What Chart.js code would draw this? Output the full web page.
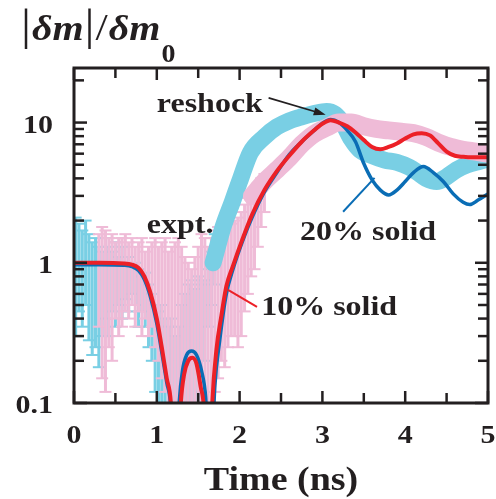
<!DOCTYPE html>
<html>
<head>
<meta charset="utf-8">
<script src="https://cdn.jsdelivr.net/npm/chart.js@4.4.1/dist/chart.umd.min.js"></script>
<style>
  html, body { margin: 0; background: #fff; }
  canvas { display: block; }
</style>
</head>
<body>
<canvas id="growth" width="496" height="499"></canvas>
<script>
// experiment, blue data (error bars at early times, then a band)
const cyanErrT  = [0.02,0.06,0.10,0.14,0.18,0.22,0.26,0.30,0.34,0.38,0.42,0.46,0.50,0.54,0.58,0.62,0.66,0.70,0.74,0.78,0.82,0.86,0.90,0.94,0.98,1.02,1.06,1.10,1.14,1.18,1.22,1.26,1.30,1.34,1.38,1.42,1.46,1.50,1.54,1.58,1.62,1.66,1.70];
const cyanErrLo = [0.3,0.45,0.35,0.5,0.28,0.22,0.25,0.18,0.3,0.4,0.3,0.45,0.35,0.5,0.4,0.55,0.45,0.6,0.5,0.35,0.45,0.35,0.25,0.2,0.12,0.09,0.09,0.09,0.09,0.09,0.09,0.09,0.09,0.09,0.09,0.09,0.09,0.09,0.12,0.2,0.35,0.5,0.7];
const cyanErrHi = [2.1,1.9,1.7,2.0,1.6,1.4,1.5,1.3,1.2,1.5,1.3,1.2,1.4,1.1,1.3,1.0,1.1,0.95,1.0,0.9,0.8,0.85,0.7,0.6,0.5,0.45,0.5,0.4,0.35,0.4,0.3,0.35,0.5,0.6,0.7,0.75,0.65,0.8,0.7,0.75,0.9,1.2,1.6];
const cyanBandT = [1.68,1.74,1.8,1.91,2.0,2.13,2.3,2.45,2.6,2.75,2.9,3.05,3.15,3.25,3.35,3.45,3.6,3.75,3.9,4.05,4.15,4.25,4.38,4.5,4.62,4.75,4.9,5.0];
const cyanBandV = [1.0,1.35,1.8,2.7,3.8,6.1,7.9,9.3,10.3,11.0,11.6,12.0,11.5,9.8,7.6,6.4,5.8,5.4,5.2,4.8,4.4,4.0,3.8,4.1,4.6,5.0,5.3,5.5];

// experiment, pink data
const pinkErrT  = [0.30,0.34,0.38,0.42,0.46,0.50,0.54,0.58,0.62,0.66,0.70,0.74,0.78,0.82,0.86,0.90,0.94,0.98,1.02,1.06,1.10,1.14,1.18,1.22,1.26,1.30,1.34,1.38,1.42,1.46,1.50,1.54,1.58,1.62,1.66,1.70,1.74,1.78,1.82,1.86,1.90,1.94,1.98,2.02,2.06,2.10,2.14,2.18,2.22,2.26,2.30];
const pinkErrLo = [0.35,0.15,0.12,0.25,0.2,0.4,0.3,0.35,0.45,0.4,0.5,0.35,0.45,0.3,0.4,0.3,0.35,0.25,0.2,0.15,0.12,0.09,0.09,0.09,0.09,0.09,0.09,0.09,0.09,0.09,0.09,0.09,0.09,0.09,0.09,0.12,0.15,0.2,0.18,0.25,0.3,0.3,0.25,0.3,0.45,0.6,0.8,0.9,1.3,1.8,2.3];
const pinkErrHi = [1.6,1.8,1.7,1.5,1.6,1.4,1.5,1.5,1.6,1.4,1.5,1.3,1.4,1.5,1.2,1.3,1.4,1.5,1.3,1.4,1.5,1.2,1.3,1.4,1.5,1.3,1.1,1.0,0.9,1.1,1.3,1.6,1.5,1.3,1.5,1.7,1.8,1.6,1.9,1.9,1.9,2.0,2.1,2.3,2.6,2.9,3.1,3.4,3.7,4.0,4.3];
const pinkBandT = [2.15,2.3,2.45,2.6,2.75,2.9,3.05,3.2,3.35,3.5,3.65,3.8,3.95,4.1,4.25,4.4,4.55,4.7,4.85,5.0];
const pinkBandV = [3.0,3.8,4.6,5.6,7.0,8.3,9.2,10.0,10.0,9.4,9.0,8.8,8.6,8.4,7.9,7.2,6.7,6.4,6.2,6.0];

// simulations
const redT = [0,0.3,0.6,0.7,0.78,0.85,0.92,1.0,1.06,1.12,1.17,1.21,1.25,1.29,1.33,1.38,1.43,1.48,1.53,1.57,1.6,1.64,1.67,1.72,1.78,1.84,1.92,2.03,2.15,2.3,2.45,2.6,2.75,2.9,3.0,3.1,3.2,3.3,3.4,3.5,3.6,3.7,3.8,3.9,4.0,4.1,4.2,4.3,4.4,4.5,4.6,4.7,4.8,4.9,5.0];
const redV = [1.0,1.0,0.99,0.97,0.92,0.8,0.62,0.4,0.25,0.15,0.1,0.03,0.03,0.1,0.16,0.2,0.21,0.19,0.13,0.09,0.03,0.03,0.1,0.24,0.42,0.68,0.95,1.45,2.2,3.3,4.5,5.8,7.3,8.8,9.8,10.4,10.0,9.4,8.5,7.5,6.7,6.45,6.7,7.1,7.7,8.25,8.4,8.1,7.1,6.2,5.8,5.7,5.65,5.65,5.65];
const blueT = [0,0.3,0.6,0.7,0.78,0.85,0.92,1.0,1.06,1.12,1.17,1.2,1.23,1.27,1.31,1.36,1.42,1.48,1.54,1.59,1.63,1.66,1.70,1.76,1.84,1.92,2.03,2.15,2.3,2.45,2.6,2.75,2.9,3.0,3.1,3.2,3.3,3.4,3.5,3.6,3.7,3.8,3.9,4.0,4.1,4.22,4.34,4.46,4.58,4.7,4.78,4.88,5.0];
const blueV = [0.97,0.97,0.96,0.94,0.88,0.76,0.58,0.37,0.23,0.14,0.09,0.03,0.03,0.1,0.17,0.22,0.235,0.22,0.17,0.11,0.04,0.04,0.13,0.28,0.6,0.9,1.4,2.1,3.2,4.4,5.9,7.3,8.8,9.9,10.5,10.0,8.8,7.3,5.1,3.9,3.3,3.05,3.3,3.8,4.4,4.86,4.4,3.8,3.1,2.7,2.6,2.8,3.1];

// axes
const xMajor = [0,1,2,3,4,5];
const xMinor = [0.5,1.5,2.5,3.5,4.5];
const xLabels = ['0','1','2','3','4','5'];
const yMajor = [0.1,1,10];
const yMinor = [0.2,0.3,0.4,0.5,0.6,0.7,0.8,0.9,2,3,4,5,6,7,8,9,20];
const yLabels = ['0.1','1','10'];

// annotations (in data units)
const notes = [
  { text: 'reshock',   t: 1.0,  v: 11.9 },
  { text: 'expt.',     t: 0.88, v: 1.63 },
  { text: '20% solid', t: 2.73, v: 1.46 },
  { text: '10% solid', t: 2.26, v: 0.425 }
];
const arrow = [[2.35, 15.0], [3.04, 11.35]];
const blueLeader = [[3.25, 2.31], [3.63, 4.03]];
const redLeader = [[2.21, 0.484], [1.86, 0.64]];

const ink = '#231f20';
const cyan = '#79cfe4';
const pink = '#efbbd7';
const red = '#ec2027';
const blue = '#0a6db5';
const serif = '"Liberation Serif", "Times New Roman", Times, serif';
const sy = 0.87; // glyphs in the figure are a bit flattened

function xy(t, v) {
  return t.map((x, i) => ({ x: x, y: v[i] }));
}
function bars(t, lo, hi) {
  const pts = [];
  t.forEach((x, i) => {
    pts.push({ x: x, y: lo[i] }, { x: x, y: hi[i] }, { x: x, y: null });
  });
  return pts;
}

function label(ctx, s, x, y, size, align, style) {
  ctx.save();
  ctx.translate(x, y);
  ctx.scale(1, sy);
  ctx.font = (style || 'bold') + ' ' + size + 'px ' + serif;
  ctx.textAlign = align || 'left';
  ctx.textBaseline = 'alphabetic';
  ctx.fillStyle = ink;
  ctx.fillText(s, 0, 0);
  ctx.restore();
}

const frame = {
  id: 'frame',
  afterDraw(chart) {
    const ctx = chart.ctx, a = chart.chartArea;
    const xs = chart.scales.x, ys = chart.scales.y;
    const seg = (x1, y1, x2, y2) => { ctx.beginPath(); ctx.moveTo(x1, y1); ctx.lineTo(x2, y2); ctx.stroke(); };
    const P = (d) => [xs.getPixelForValue(d[0]), ys.getPixelForValue(d[1])];

    ctx.save();
    ctx.strokeStyle = ink;
    ctx.lineWidth = 2.5;
    xMajor.forEach(v => { const p = xs.getPixelForValue(v); seg(p, a.bottom, p, a.bottom - 12); seg(p, a.top, p, a.top + 12); });
    xMinor.forEach(v => { const p = xs.getPixelForValue(v); seg(p, a.bottom, p, a.bottom - 10); seg(p, a.top, p, a.top + 10); });
    yMajor.forEach(v => { const p = ys.getPixelForValue(v); seg(a.left, p, a.left + 13, p); seg(a.right, p, a.right - 13, p); });
    yMinor.forEach(v => { const p = ys.getPixelForValue(v); seg(a.left, p, a.left + 10, p); seg(a.right, p, a.right - 10, p); });
    ctx.lineWidth = 3;
    ctx.strokeRect(a.left, a.top, a.right - a.left, a.bottom - a.top);

    // tick labels
    xMajor.forEach((v, i) => label(ctx, xLabels[i], xs.getPixelForValue(v), 443, 30, 'center'));
    yMajor.forEach((v, i) => label(ctx, yLabels[i], 53, ys.getPixelForValue(v) + 10, 30, 'right'));
    label(ctx, 'Time (ns)', (a.left + a.right) / 2, 490, 38, 'center');

    // y title |δm|/δm0
    const parts = [['|', 'normal', 50], ['δm', 'italic bold', 40], ['|', 'normal', 50], ['/', 'normal', 44], ['δm', 'italic bold', 40]];
    let px = 21;
    parts.forEach(p => {
      label(ctx, p[0], px, 40, p[2], 'left', p[1]);
      ctx.font = p[1] + ' ' + p[2] + 'px ' + serif;
      px += ctx.measureText(p[0]).width + 1;
    });
    label(ctx, '0', px, 62, 28, 'left');

    // annotations
    notes.forEach(n => label(ctx, n.text, xs.getPixelForValue(n.t), ys.getPixelForValue(n.v), 32, 'left'));

    ctx.lineWidth = 1.6;
    const [a1, a2] = [P(arrow[0]), P(arrow[1])];
    const ang = Math.atan2(a2[1] - a1[1], a2[0] - a1[0]);
    seg(a1[0], a1[1], a2[0] - 8 * Math.cos(ang), a2[1] - 8 * Math.sin(ang));
    ctx.fillStyle = ink;
    ctx.beginPath();
    ctx.moveTo(a2[0], a2[1]);
    ctx.lineTo(a2[0] - 12 * Math.cos(ang) + 4 * Math.sin(ang), a2[1] - 12 * Math.sin(ang) - 4 * Math.cos(ang));
    ctx.lineTo(a2[0] - 12 * Math.cos(ang) - 4 * Math.sin(ang), a2[1] - 12 * Math.sin(ang) + 4 * Math.cos(ang));
    ctx.closePath();
    ctx.fill();

    ctx.lineWidth = 2;
    ctx.strokeStyle = blue;
    let b1 = P(blueLeader[0]), b2 = P(blueLeader[1]);
    seg(b1[0], b1[1], b2[0], b2[1]);
    ctx.strokeStyle = red;
    b1 = P(redLeader[0]); b2 = P(redLeader[1]);
    seg(b1[0], b1[1], b2[0], b2[1]);
    ctx.restore();
  }
};

new Chart(document.getElementById('growth'), {
  type: 'line',
  data: {
    datasets: [
      { data: xy(redT, redV), borderColor: red, borderWidth: 4, pointRadius: 0, cubicInterpolationMode: 'monotone', clip: 0, order: 0 },
      { data: xy(blueT, blueV), borderColor: blue, borderWidth: 3.5, pointRadius: 0, cubicInterpolationMode: 'monotone', clip: 0, order: 1 },
      { data: xy(pinkBandT, pinkBandV), borderColor: pink, borderWidth: 18, pointRadius: 0, cubicInterpolationMode: 'monotone',
        borderCapStyle: 'round', borderJoinStyle: 'round', clip: 0, order: 2 },
      { data: xy(cyanBandT, cyanBandV), borderColor: cyan, borderWidth: 17, pointRadius: 0, cubicInterpolationMode: 'monotone',
        borderCapStyle: 'round', borderJoinStyle: 'round', clip: 0, order: 3 },
      { data: bars(pinkErrT, pinkErrLo, pinkErrHi), borderColor: pink, borderWidth: 3, spanGaps: false,
        pointStyle: 'line', pointRadius: 6, pointBorderColor: pink, pointBorderWidth: 2, clip: 0, order: 4 },
      { data: bars(cyanErrT, cyanErrLo, cyanErrHi), borderColor: cyan, borderWidth: 3, spanGaps: false,
        pointStyle: 'line', pointRadius: 6, pointBorderColor: cyan, pointBorderWidth: 2, clip: 0, order: 5 }
    ]
  },
  options: {
    responsive: false,
    animation: false,
    layout: { padding: { left: 74, right: 4, top: 68, bottom: 96 } },
    scales: {
      x: { type: 'linear', min: 0, max: 5, display: false },
      y: { type: 'logarithmic', min: 0.1, max: 24.5, display: false }
    },
    plugins: { legend: { display: false }, tooltip: { enabled: false } }
  },
  plugins: [frame]
});
</script>
</body>
</html>
